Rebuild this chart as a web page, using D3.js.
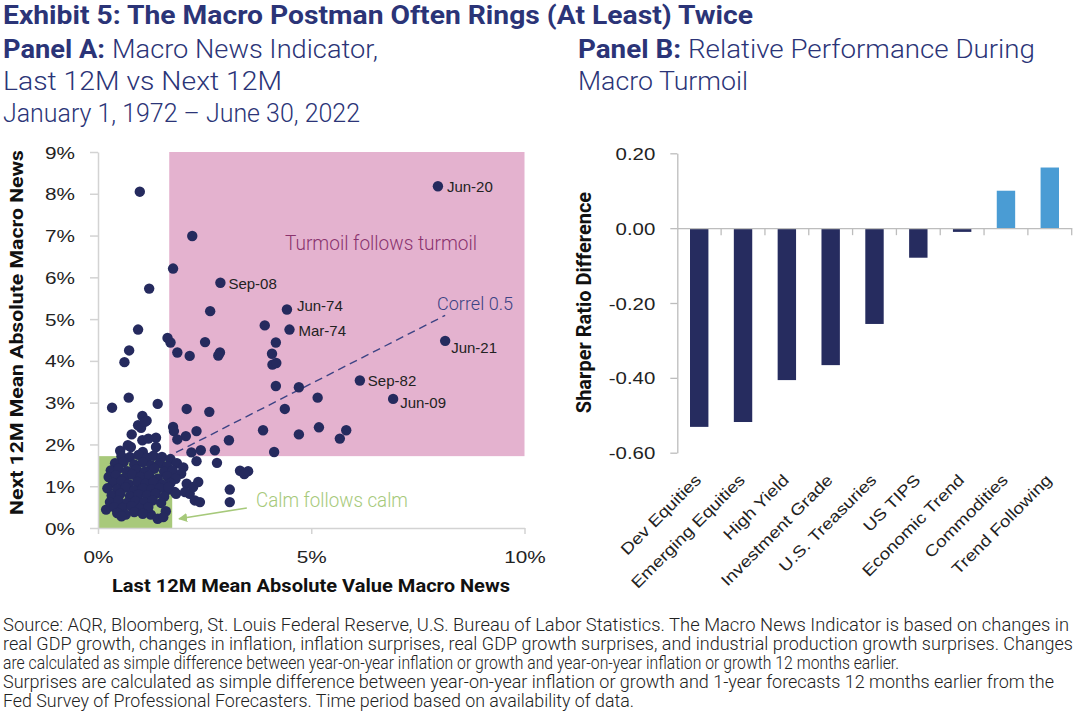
<!DOCTYPE html>
<html><head><meta charset="utf-8">
<script src="https://cdn.jsdelivr.net/npm/d3@7"></script>
<style>html,body{margin:0;padding:0;background:#fff}svg{display:block}</style>
</head><body>
<svg id="chart" width="1080" height="713"></svg>
<script>
// ---------------- DATA ----------------
// Panel A: Last 12M (x) vs Next 12M (y) mean absolute macro news, in %
const lastNews = [0.98,2.21,1.76,1.20,2.63,3.91,0.94,1.63,1.70,2.51,1.86,2.15,2.86,2.82,0.73,0.62,4.17,4.08,4.09,4.18,4.17,4.71,5.15,4.38,0.72,0.33,1.40,2.08,2.61,3.87,4.71,5.18,5.82,5.67,3.07,4.13,3.33,3.52,3.43,3.09,3.09,1.04,1.14,1.01,0.79,1.76,1.78,2.06,2.31,1.86,1.04,1.18,1.36,0.77,1.36,0.52,2.19,2.41,2.74,2.31,2.79,2.08,2.35,2.15,2.27,2.39,1.83,1.59,1.24,1.40,0.19,2.23,2.04,1.61,1.80,1.53,0.94,1.10,0.70,1.05,
  0.55,0.75,0.95,1.15,1.30,1.50,1.70,
  0.40,0.60,0.85,1.05,1.25,1.45,1.62,1.85,2.00,
  0.30,0.48,0.68,0.90,1.10,1.32,1.55,1.75,1.95,
  0.25,0.42,0.62,0.80,1.00,1.20,1.40,1.62,1.82,
  0.35,0.55,0.72,0.92,1.12,1.30,1.50,1.70,
  0.22,0.45,0.65,0.85,1.05,1.25,1.45,1.65,
  0.32,0.52,0.75,0.95,1.15,1.35,1.55,
  0.28,0.48,0.68,0.88,1.08,1.28,1.48,
  0.38,0.58,0.78,0.98,1.18,
  0.45,0.65,0.85,1.05,0.55];
const nextNews = [8.05,6.99,6.21,5.73,5.19,4.85,4.75,4.55,4.44,4.45,4.20,4.12,4.20,4.13,4.25,3.97,4.44,4.17,3.91,3.95,3.40,3.37,3.12,2.85,3.12,2.88,2.97,2.85,2.78,2.34,2.24,2.41,2.34,2.14,2.10,1.82,1.37,1.36,1.29,0.92,0.62,2.68,2.57,2.40,2.24,2.42,2.32,2.20,2.32,2.12,2.10,2.14,2.16,1.94,1.94,1.85,1.81,1.86,1.86,1.60,1.56,1.06,1.10,0.82,0.66,0.62,0.82,0.40,0.32,0.22,0.44,0.98,0.86,0.90,0.86,0.26,2.46,2.54,1.98,1.82,
  1.72,1.70,1.75,1.68,1.73,1.70,1.65,
  1.55,1.58,1.52,1.57,1.50,1.55,1.48,1.55,1.45,
  1.38,1.42,1.36,1.40,1.35,1.42,1.35,1.38,1.30,
  1.22,1.26,1.20,1.28,1.22,1.25,1.18,1.24,1.18,
  1.08,1.12,1.05,1.10,1.06,1.10,1.04,1.08,
  0.95,0.92,0.97,0.90,0.95,0.92,0.96,0.98,
  0.78,0.82,0.76,0.80,0.78,0.82,0.75,
  0.62,0.66,0.60,0.65,0.62,0.66,0.60,
  0.50,0.48,0.52,0.46,0.50,
  0.36,0.32,0.38,0.34,0.28];
// Labelled observations
const labelNames = ["Jun-20","Sep-08","Jun-74","Mar-74","Jun-21","Sep-82","Jun-09"];
const labelLast  = [7.97,2.87,4.43,4.49,8.14,6.14,6.92];
const labelNext  = [8.18,5.87,5.23,4.75,4.48,3.53,3.09];
// Regression (correl 0.5) line end points
const correlLast = [0.20,8.14];
const correlNext = [0.96,5.09];
// Regime thresholds (%)
const turmoilLast = 1.67, turmoilNext = 1.72, calmLast = 1.74, calmNext = 1.72;
const scatterXTicks = [0,5,10];
const scatterYTicks = [0,1,2,3,4,5,6,7,8,9];

// Panel B
const categories = ["Dev Equities","Emerging Equities","High Yield","Investment Grade","U.S. Treasuries","US TIPS","Economic Trend","Commodities","Trend Following"];
const sharpeDiff = [-0.531,-0.518,-0.406,-0.366,-0.256,-0.079,-0.010,0.100,0.162];
const barTicks = [0.2,0.0,-0.2,-0.4,-0.6];

const footerLines = [
 "Source: AQR, Bloomberg, St. Louis Federal Reserve, U.S. Bureau of Labor Statistics. The Macro News Indicator is based on changes in",
 "real GDP growth, changes in inflation, inflation surprises, real GDP growth surprises, and industrial production growth surprises. Changes",
 "are calculated as simple difference between year-on-year inflation or growth and year-on-year inflation or growth 12 months earlier.",
 "Surprises are calculated as simple difference between year-on-year inflation or growth and 1-year forecasts 12 months earlier from the",
 "Fed Survey of Professional Forecasters. Time period based on availability of data."
];

// ---------------- DRAW ----------------
const svg = d3.select("#chart");
const NAVY = "#2b3477", DOT = "#252a5e", INK = "#222";
const FT = "Roboto, 'Liberation Sans', Arial, sans-serif";
const FA = "'Liberation Sans', Arial, sans-serif";

function fit(sel, w){ sel.attr("textLength", w).attr("lengthAdjust","spacingAndGlyphs"); return sel; }
function text(x,y,s,size,weight,fill,family,w){
  const t = svg.append("text").attr("x",x).attr("y",y).text(s)
    .style("font-family",family||FT).style("font-size",size+"px").style("font-weight",weight).attr("fill",fill);
  if(w) fit(t,w);
  return t;
}

// Titles
text(3,24,"Exhibit 5: The Macro Postman Often Rings (At Least) Twice",25,700,NAVY,FT,750);
text(3,58,"Panel A:",26,700,NAVY,FT,102);
text(112,58,"Macro News Indicator,",26,300,NAVY,FT,266);
text(3,90,"Last 12M vs Next 12M",26,300,NAVY,FT,279);
text(3,122,"January 1, 1972 \u2013 June 30, 2022",25,300,NAVY,FT,357);
text(578,58,"Panel B:",26,700,NAVY,FT,103);
text(688,58,"Relative Performance During",26,300,NAVY,FT,347);
text(578,90,"Macro Turmoil",26,300,NAVY,FT,170);

// ---- Panel A scatter
const x = d3.scaleLinear().domain([0,10]).range([98,524.5]);
const y = d3.scaleLinear().domain([0,9]).range([528,152]);
const gA = svg.append("g");
gA.append("rect").attr("x",x(turmoilLast)).attr("y",y(9)).attr("width",x(10)-x(turmoilLast)).attr("height",y(turmoilNext)-y(9)).attr("fill","#e4b2cf");
gA.append("rect").attr("x",x(0)).attr("y",y(calmNext)).attr("width",x(calmLast)-x(0)).attr("height",y(0)-y(calmNext)).attr("fill","#a8c97b");

const yAx = gA.append("g").attr("transform",`translate(${x(0)},0)`)
  .call(d3.axisLeft(y).tickValues(scatterYTicks).tickSize(8).tickSizeOuter(0).tickFormat(d=>d+"%"));
const xAx = gA.append("g").attr("transform",`translate(0,${y(0)})`)
  .call(d3.axisBottom(x).tickValues(scatterXTicks).tickSize(6).tickSizeOuter(0).tickFormat(d=>d+"%"));
[yAx,xAx].forEach(a=>{ a.select(".domain").attr("stroke","#d3d3d3").attr("stroke-width",1.5);
  a.selectAll(".tick line").attr("stroke","#d3d3d3").attr("stroke-width",1.5); });
yAx.selectAll(".tick text").style("font-family",FA).style("font-size","17px").attr("fill",INK).attr("dy",null).attr("y",6)
  .each(function(){ const l=this.getComputedTextLength()*1.22; d3.select(this).attr("text-anchor","start").attr("x",-23-l).attr("textLength",l).attr("lengthAdjust","spacingAndGlyphs"); });
xAx.selectAll(".tick text").style("font-family",FA).style("font-size","17px").attr("fill",INK).attr("dy",null).attr("y",35)
  .each(function(){ const l=this.getComputedTextLength()*1.22; d3.select(this).attr("text-anchor","start").attr("x",-l/2).attr("textLength",l).attr("lengthAdjust","spacingAndGlyphs"); });

// correl line
gA.append("line").attr("x1",x(correlLast[0])).attr("y1",y(correlNext[0])).attr("x2",x(correlLast[1])).attr("y2",y(correlNext[1]))
  .attr("stroke","#3c4384").attr("stroke-width",1.4).attr("stroke-dasharray","8,5");

// dots
const pts = lastNews.map((v,i)=>({x:v,y:nextNews[i]}));
gA.selectAll("circle.pt").data(pts).join("circle").attr("class","pt")
  .attr("cx",d=>x(d.x)).attr("cy",d=>y(d.y)).attr("r",5.2).attr("fill",DOT);
const lab = labelNames.map((n,i)=>({n,x:labelLast[i],y:labelNext[i]}));
const labOff = {"Jun-20":[9,6],"Sep-08":[8,6],"Jun-74":[10,1],"Mar-74":[9,6],"Jun-21":[6,12],"Sep-82":[8,5],"Jun-09":[7,9]};
gA.selectAll("circle.lab").data(lab).join("circle").attr("class","lab")
  .attr("cx",d=>x(d.x)).attr("cy",d=>y(d.y)).attr("r",5.2).attr("fill",DOT);
gA.selectAll("text.lab").data(lab).join("text").attr("class","lab")
  .attr("x",d=>x(d.x)+labOff[d.n][0]).attr("y",d=>y(d.y)+labOff[d.n][1]).text(d=>d.n)
  .style("font-family",FA).style("font-size","15px").attr("fill",INK);

// annotations
text(285,250,"Turmoil follows turmoil",21,300,"#8a336e",FT,192);
text(437,310,"Correl 0.5",18,300,"#3c4384",FT,76);
text(256,507,"Calm follows calm",20,300,"#a6c97a",FT,152);
svg.append("defs").append("marker").attr("id","ah").attr("viewBox","0 0 10 10").attr("refX",9).attr("refY",5)
  .attr("markerWidth",9).attr("markerHeight",9).attr("markerUnits","userSpaceOnUse").attr("orient","auto")
  .append("path").attr("d","M0,0L10,5L0,10Z").attr("fill","#a6c97a");
gA.append("line").attr("x1",x(3.49)).attr("y1",y(0.48)).attr("x2",x(1.9)).attr("y2",y(0.22))
  .attr("stroke","#a6c97a").attr("stroke-width",1.6).attr("marker-end","url(#ah)");

// axis titles
text(112,592,"Last 12M Mean Absolute Value Macro News",19,700,"#111",FT,398);
svg.append("text").attr("transform","translate(23,515) rotate(-90)").text("Next 12M Mean Absolute Macro News")
  .style("font-family",FT).style("font-size","19px").style("font-weight",700).attr("fill","#111")
  .attr("textLength",365).attr("lengthAdjust","spacingAndGlyphs");

// ---- Panel B bars
const xb = d3.scaleBand().domain(categories).range([677.3,1071.7]).paddingInner(0).paddingOuter(0);
const yb = d3.scaleLinear().domain([-0.6,0.2]).range([452.7,153.3]);
const gB = svg.append("g");
const bw = xb.bandwidth()*0.42;
gB.selectAll("rect").data(categories).join("rect")
  .attr("x",d=>xb(d)+xb.bandwidth()/2-bw/2).attr("width",bw)
  .attr("y",(d,i)=>yb(Math.max(0,sharpeDiff[i]))).attr("height",(d,i)=>Math.abs(yb(sharpeDiff[i])-yb(0)))
  .attr("fill",(d,i)=>sharpeDiff[i]<0?"#262c5f":"#4a9cd4");

const ybAx = gB.append("g").attr("transform",`translate(677.3,0)`)
  .call(d3.axisLeft(yb).tickValues(barTicks).tickSize(7).tickSizeOuter(0).tickFormat(d3.format(".2f")));
ybAx.select(".domain").attr("stroke","#bdbdbd").attr("stroke-width",1.3);
ybAx.selectAll(".tick line").attr("stroke","#bdbdbd").attr("stroke-width",1.3);
ybAx.selectAll(".tick text").text(d=>d3.format(".2f")(d).replace("\u2212","-")).style("font-family",FA).style("font-size","17px").attr("fill",INK).attr("dy",null).attr("y",6)
  .each(function(){ const l=this.getComputedTextLength()*1.2; d3.select(this).attr("text-anchor","start").attr("x",-22-l).attr("textLength",l).attr("lengthAdjust","spacingAndGlyphs"); });

// zero baseline with category-boundary ticks
const xbAx = gB.append("g").attr("transform",`translate(0,${yb(0)})`)
  .call(d3.axisBottom(xb).tickSize(0).tickSizeOuter(0).tickFormat(""));
xbAx.select(".domain").attr("stroke","#bdbdbd").attr("stroke-width",1.3);
xbAx.selectAll(".tick line").remove();
xbAx.selectAll("line.bd").data(categories).join("line").attr("class","bd")
  .attr("x1",d=>xb(d)+xb.bandwidth()).attr("x2",d=>xb(d)+xb.bandwidth()).attr("y1",0).attr("y2",7)
  .attr("stroke","#bdbdbd").attr("stroke-width",1.3);

// rotated category labels
const catG = gB.selectAll("g.cat").data(categories).join("g").attr("class","cat")
  .attr("transform",d=>`translate(${xb(d)+xb.bandwidth()/2+3},481) rotate(-45)`);
catG.append("text").text(d=>d).style("font-family",FA).style("font-size","16px").attr("fill",INK)
  .each(function(){ const l=this.getComputedTextLength()*1.18; d3.select(this).attr("x",-l).attr("textLength",l).attr("lengthAdjust","spacingAndGlyphs"); });

svg.append("text").attr("transform","translate(591,302.5) rotate(-90)").attr("text-anchor","middle")
  .text("Sharper Ratio Difference").style("font-family",FT).style("font-size","20px").style("font-weight",700).attr("fill","#111");

// ---- Footer
const footW = [1066,1070,896,1051,631];
footerLines.forEach((s,i)=>text(3,631+i*19,s,17.5,300,INK,FT,footW[i]));
</script>
</body></html>
